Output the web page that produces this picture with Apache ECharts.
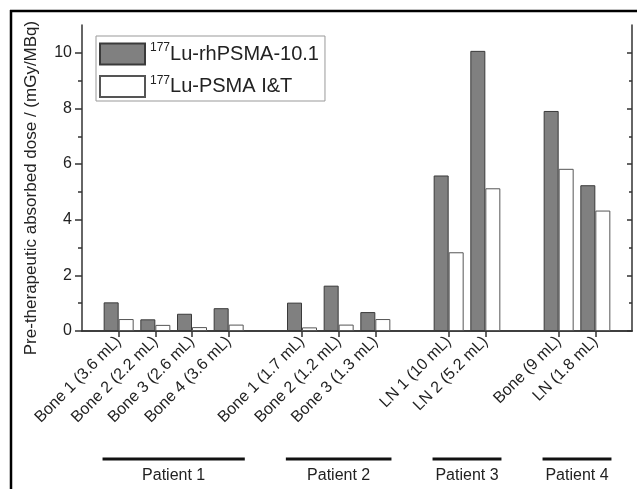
<!DOCTYPE html>
<html>
<head>
<meta charset="utf-8">
<script src="https://cdn.jsdelivr.net/npm/echarts@6/dist/echarts.min.js"></script>
<style>html,body{margin:0;padding:0;background:#fff}#c{width:637px;height:489px}</style>
</head>
<body>
<div id="c"></div>
<script>
// ---- data ----
const patients = ['Patient 1', 'Patient 2', 'Patient 3', 'Patient 4'];
const lesions = [
  ['Bone 1 (3.6 mL)', 'Bone 2 (2.2 mL)', 'Bone 3 (2.6 mL)', 'Bone 4 (3.6 mL)'],
  ['Bone 1 (1.7 mL)', 'Bone 2 (1.2 mL)', 'Bone 3 (1.3 mL)'],
  ['LN 1 (10 mL)', 'LN 2 (5.2 mL)'],
  ['Bone (9 mL)', 'LN (1.8 mL)']
];
const seriesNames = ['177Lu-rhPSMA-10.1', '177Lu-PSMA I&T'];
const rhPSMA = [[1.03, 0.42, 0.62, 0.82], [1.02, 1.63, 0.68], [5.59, 10.07], [7.91, 5.24]];
const psmaIT = [[0.43, 0.22, 0.14, 0.23], [0.13, 0.23, 0.43], [2.83, 5.13], [5.83, 4.33]];
const yMajor = [0, 2, 4, 6, 8, 10];
const yMinor = [1, 3, 5, 7, 9];
const yName = 'Pre-therapeutic absorbed dose / (mGy/MBq)';

// ---- build category axis with gap slots ----
const categories = [];
const s1 = [], s2 = [];
const groups = [];
let gapId = 0;
function addGap() { categories.push('__gap' + (gapId++)); s1.push(null); s2.push(null); }
addGap();
lesions.forEach((ls, p) => {
  const start = categories.length;
  ls.forEach((l, i) => { categories.push(l); s1.push(rhPSMA[p][i]); s2.push(psmaIT[p][i]); });
  groups.push({ name: patients[p], first: start, last: categories.length - 1 });
  addGap();
});
const isGap = v => typeof v === 'string' && v.indexOf('__gap') === 0;

const axisColor = '#333';
const textColor = '#222';
const font = 'Liberation Sans, Arial, sans-serif';

const chart = echarts.init(document.getElementById('c'), null, { renderer: 'canvas' });
const yCommon = { type: 'value', min: 0, max: 11, splitLine: { show: false } };

chart.setOption({
  animation: false,
  backgroundColor: '#fff',
  textStyle: { fontFamily: font },
  grid: { left: 82, right: 5, top: 25, bottom: 158, containLabel: false },
  legend: {
    orient: 'vertical', left: 96, top: 36,
    padding: [6, 6, 3, 3], itemGap: 9, itemWidth: 45, itemHeight: 21,
    borderColor: '#999', borderWidth: 1, backgroundColor: '#fff',
    icon: 'rect',
    formatter: n => n.replace(/^(\d+)(.*)$/, '{sup|$1}{t|$2}'),
    textStyle: {
      color: textColor, fontFamily: font,
      rich: {
        sup: { fontSize: 12, lineHeight: 12, verticalAlign: 'top', color: textColor, fontFamily: font },
        t: { fontSize: 20, lineHeight: 24, color: textColor, fontFamily: font }
      }
    }
  },
  xAxis: [{
    type: 'category', data: categories, boundaryGap: false, position: 'bottom',
    axisLine: { show: true, lineStyle: { color: axisColor, width: 1.5 } },
    axisTick: { show: true, length: 6, interval: (i, v) => !isGap(v), lineStyle: { color: axisColor, width: 1.5 } },
    axisLabel: { interval: 0, rotate: 45, fontSize: 16, color: textColor, margin: 8, fontFamily: font,
      formatter: v => isGap(v) ? '' : v }
  }, {
    type: 'category', data: categories, boundaryGap: false, position: 'top',
    axisLine: { show: true, lineStyle: { color: axisColor, width: 1.5 } },
    axisTick: { show: false }, axisLabel: { show: false }
  }],
  yAxis: [
    Object.assign({}, yCommon, {
      position: 'left', name: yName, nameLocation: 'middle', nameGap: 42,
      nameTextStyle: { fontSize: 17, color: textColor, fontFamily: font, padding: [0, 20, 0, 0] },
      axisLine: { show: true, lineStyle: { color: axisColor, width: 1.5 } },
      axisTick: { show: true, customValues: yMajor, length: 7, lineStyle: { color: axisColor, width: 1.5 } },
      axisLabel: { customValues: yMajor, fontSize: 16, color: textColor, margin: 10, fontFamily: font }
    }),
    Object.assign({}, yCommon, {
      position: 'left', axisLine: { show: false },
      axisTick: { show: true, customValues: yMinor, length: 4, lineStyle: { color: axisColor, width: 1.5 } },
      axisLabel: { show: false }
    }),
    Object.assign({}, yCommon, {
      position: 'right', axisLine: { show: true, lineStyle: { color: axisColor, width: 1.5 } },
      axisTick: { show: true, inside: true, customValues: yMajor, length: 5, lineStyle: { color: axisColor, width: 1.5 } },
      axisLabel: { show: false }
    }),
    Object.assign({}, yCommon, {
      position: 'right', axisLine: { show: false },
      axisTick: { show: true, inside: true, customValues: yMinor, length: 3, lineStyle: { color: axisColor, width: 1.5 } },
      axisLabel: { show: false }
    })
  ],
  series: [{
    name: seriesNames[0], type: 'bar', data: s1, barWidth: 15, barGap: '0%',
    itemStyle: { color: '#808080', borderColor: '#3a3a3a', borderWidth: 1 }
  }, {
    name: seriesNames[1], type: 'bar', data: s2, barWidth: 15, barGap: '0%',
    itemStyle: { color: '#ffffff', borderColor: '#555', borderWidth: 1 }
  }]
});

// patient group annotations positioned through the axis scale
const elements = [];
groups.forEach(g => {
  const x1 = chart.convertToPixel({ xAxisIndex: 0 }, g.first);
  const x2 = chart.convertToPixel({ xAxisIndex: 0 }, g.last);
  const step = chart.convertToPixel({ xAxisIndex: 0 }, g.first + 1) - x1;
  const a = x1 - 0.44 * step, b = x2 + 0.44 * step;
  elements.push({ type: 'line', shape: { x1: a, y1: 459, x2: b, y2: 459 }, style: { stroke: '#111', lineWidth: 3 } });
  elements.push({ type: 'text', x: (a + b) / 2, y: 476,
    style: { text: g.name, fontSize: 16, fill: textColor, fontFamily: font, align: 'center', verticalAlign: 'middle' } });
});
// figure frame (top & left edges)
elements.push({ type: 'line', shape: { x1: 10, y1: 11, x2: 637, y2: 11 }, style: { stroke: '#000', lineWidth: 2.5 } });
elements.push({ type: 'line', shape: { x1: 11, y1: 10, x2: 11, y2: 489 }, style: { stroke: '#000', lineWidth: 2.5 } });
chart.setOption({ graphic: { elements } });
</script>
</body>
</html>
